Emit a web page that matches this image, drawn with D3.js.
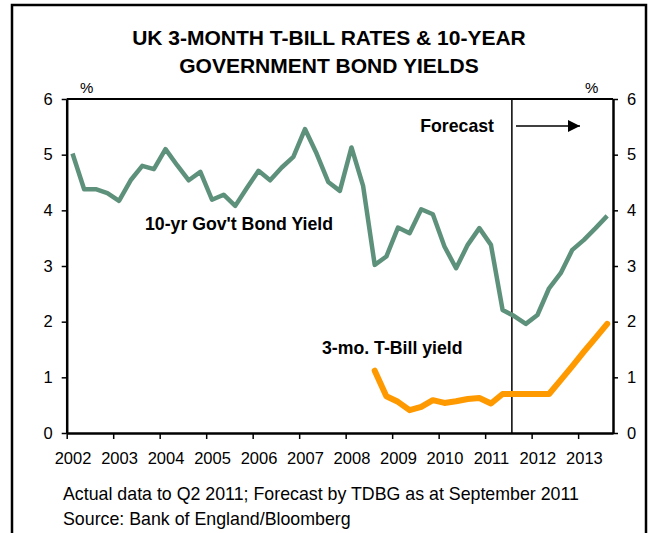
<!DOCTYPE html>
<html>
<head>
<meta charset="utf-8">
<script src="https://cdn.jsdelivr.net/npm/d3@7"></script>
<style>
  body { margin: 0; background: #fff; }
  text { font-family: "Liberation Sans", Arial, sans-serif; }
</style>
</head>
<body>
<div id="viz"></div>
<script>
const width = 653;
const height = 533;
const margin = {top: 99, right: 40, bottom: 100, left: 66.7};

// quarterly, 2002 Q1 .. 2013 Q3
const years = ['2002','2003','2004','2005','2006','2007','2008','2009','2010','2011','2012','2013'];
const quarters = [];
years.forEach(y => ['Q1','Q2','Q3','Q4'].forEach(q => quarters.push(y + ' ' + q)));
quarters.length = 47;

const bondYield = [5.02, 4.38, 4.38, 4.31, 4.17, 4.54, 4.80, 4.74, 5.10, 4.81, 4.54, 4.69,
                   4.19, 4.28, 4.08, 4.40, 4.71, 4.54, 4.77, 4.96, 5.46, 5.02, 4.51, 4.35,
                   5.13, 4.44, 3.02, 3.17, 3.69, 3.59, 4.02, 3.93, 3.35, 2.96, 3.38, 3.68,
                   3.38, 2.21, 2.10, 1.96, 2.12, 2.60, 2.87, 3.29, 3.47, 3.68, 3.90];
// T-bill starts at 2008 Q3
const tbillStart = 26;
const tbillYield = [1.12, 0.66, 0.56, 0.41, 0.47, 0.59, 0.54, 0.57, 0.61, 0.63, 0.53,
                    0.70, 0.70, 0.70, 0.70, 0.70, 0.95, 1.20, 1.46, 1.71, 1.96];
const yTicks = [0, 1, 2, 3, 4, 5, 6];
const forecastAt = 37.8;

const svg = d3.select('#viz').append('svg')
    .attr('width', width)
    .attr('height', height);

// outer frame
svg.append('rect')
    .attr('x', 12).attr('y', 5)
    .attr('width', 634).attr('height', 540)
    .attr('fill', 'none').attr('stroke', '#000').attr('stroke-width', 2.5);

// title
svg.append('text').attr('x', 329).attr('y', 45)
    .attr('text-anchor', 'middle').attr('font-size', 21).attr('font-weight', 'bold')
    .text('UK 3-MONTH T-BILL RATES & 10-YEAR');
svg.append('text').attr('x', 329).attr('y', 73)
    .attr('text-anchor', 'middle').attr('font-size', 21).attr('font-weight', 'bold')
    .text('GOVERNMENT BOND YIELDS');

const x = d3.scaleLinear()
    .domain([-0.5, quarters.length - 0.5])
    .range([margin.left, width - margin.right]);
const y = d3.scaleLinear()
    .domain([0, 6])
    .range([height - margin.bottom, margin.top]);

// plot border top
svg.append('line')
    .attr('x1', x.range()[0]).attr('x2', x.range()[1])
    .attr('y1', y(6)).attr('y2', y(6))
    .attr('stroke', '#000').attr('stroke-width', 2);

const styleAxis = g => {
    g.select('.domain').attr('stroke-width', 2.5);
    g.selectAll('.tick line').attr('stroke-width', 1.5);
    g.selectAll('text').attr('font-size', 16.5).attr('fill', '#000')
        .style('font-family', '"Liberation Sans", Arial, sans-serif');
};

svg.append('g')
    .attr('transform', `translate(${x.range()[0]},0)`)
    .call(d3.axisLeft(y).tickValues(yTicks).tickFormat(d3.format('d')).tickSize(5).tickSizeOuter(0).tickPadding(9))
    .call(styleAxis);
svg.append('g')
    .attr('transform', `translate(${x.range()[1]},0)`)
    .call(d3.axisRight(y).tickValues(yTicks).tickFormat(d3.format('d')).tickSize(5).tickSizeOuter(0).tickPadding(9))
    .call(styleAxis);

// x ticks at year boundaries, labels under the first quarter of each year
const yearIdx = years.map((d, i) => i * 4);
svg.append('g')
    .attr('transform', `translate(0,${y(0)})`)
    .call(d3.axisBottom(x).tickValues(yearIdx.map(d => d - 0.5)).tickSize(6).tickSizeOuter(0).tickFormat(''))
    .call(styleAxis);
svg.append('g')
    .attr('transform', `translate(0,${y(0)})`)
    .call(d3.axisBottom(x).tickValues(yearIdx).tickSize(0).tickPadding(19).tickFormat((d, i) => years[i]))
    .call(g => g.select('.domain').remove())
    .call(styleAxis);

// forecast divider
svg.append('line')
    .attr('x1', x(forecastAt)).attr('x2', x(forecastAt))
    .attr('y1', y(6)).attr('y2', y(0))
    .attr('stroke', '#000').attr('stroke-width', 1.5);

// lines
const line = d3.line().x(d => x(d[0])).y(d => y(d[1]));
svg.append('path')
    .attr('d', line(bondYield.map((v, i) => [i, v])))
    .attr('fill', 'none').attr('stroke', '#5e917c')
    .attr('stroke-width', 4.5).attr('stroke-linejoin', 'round');
svg.append('path')
    .attr('d', line(tbillYield.map((v, i) => [tbillStart + i, v])))
    .attr('fill', 'none').attr('stroke', '#ff9900')
    .attr('stroke-width', 6).attr('stroke-linejoin', 'round').attr('stroke-linecap', 'round');

// labels
svg.append('text').attr('x', 145).attr('y', 230)
    .attr('font-size', 17.7).attr('font-weight', 'bold').text("10-yr Gov't Bond Yield");
svg.append('text').attr('x', 322).attr('y', 354)
    .attr('font-size', 17.7).attr('font-weight', 'bold').text('3-mo. T-Bill yield');
svg.append('text').attr('x', 494).attr('y', 132).attr('text-anchor', 'end')
    .attr('font-size', 17.7).attr('font-weight', 'bold').text('Forecast');

svg.append('defs').append('marker')
    .attr('id', 'head').attr('viewBox', '0 0 10 10')
    .attr('refX', 10).attr('refY', 5)
    .attr('markerWidth', 16).attr('markerHeight', 12)
    .attr('markerUnits', 'userSpaceOnUse').attr('orient', 'auto')
    .append('path').attr('d', 'M0,0L10,5L0,10Z').attr('fill', '#000');
svg.append('line')
    .attr('x1', 516).attr('x2', 580).attr('y1', 126).attr('y2', 126)
    .attr('stroke', '#000').attr('stroke-width', 1.5).attr('marker-end', 'url(#head)');

// % units
svg.append('text').attr('x', 80).attr('y', 93).attr('font-size', 15).text('%');
svg.append('text').attr('x', 585).attr('y', 93).attr('font-size', 15).text('%');

// footnote
svg.append('text').attr('x', 63).attr('y', 500).attr('font-size', 17.8)
    .text('Actual data to Q2 2011; Forecast by TDBG as at September 2011');
svg.append('text').attr('x', 63).attr('y', 525).attr('font-size', 17.8)
    .text('Source: Bank of England/Bloomberg');
</script>
</body>
</html>
